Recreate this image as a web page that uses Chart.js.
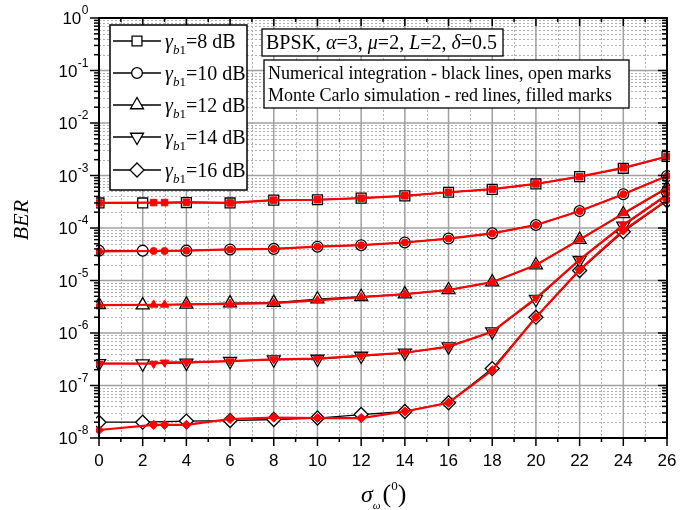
<!DOCTYPE html>
<html>
<head>
<meta charset="utf-8">
<script src="https://cdn.jsdelivr.net/npm/chart.js@4.4.1/dist/chart.umd.min.js"></script>
<style>
  body { margin: 0; background: #fff; }
  #wrap { width: 692px; height: 510px; }
</style>
</head>
<body>
<div id="wrap"><canvas id="berChart" width="692" height="510"></canvas></div>
<script>
// Pointing error std. deviation (degrees)
const sigmaNum = [0, 2, 4, 6, 8, 10, 12, 14, 16, 18, 20, 22, 24, 26];
const sigmaSim = [0, 2.5, 3, 4, 6, 8, 10, 12, 14, 16, 18, 20, 22, 24, 26];

// Numerical integration (black, open marks)
const ber8Num  = [3.0e-4, 3.0e-4, 3.05e-4, 3.0e-4, 3.4e-4, 3.45e-4, 3.7e-4, 4.1e-4, 4.8e-4, 5.45e-4, 6.9e-4, 9.5e-4, 1.37e-3, 2.3e-3];
const ber10Num = [3.7e-5, 3.7e-5, 3.7e-5, 3.9e-5, 4.0e-5, 4.4e-5, 4.7e-5, 5.3e-5, 6.3e-5, 7.9e-5, 1.14e-4, 2.1e-4, 4.4e-4, 9.8e-4];
const ber12Num = [3.45e-6, 3.4e-6, 3.5e-6, 3.7e-6, 3.8e-6, 4.4e-6, 4.9e-6, 5.5e-6, 6.6e-6, 9.3e-6, 1.97e-5, 6.0e-5, 1.85e-4, 5.7e-4];
const ber14Num = [2.65e-7, 2.6e-7, 2.7e-7, 2.9e-7, 3.1e-7, 3.2e-7, 3.65e-7, 4.2e-7, 5.5e-7, 1.06e-6, 4.4e-6, 2.45e-5, 1.1e-4, 4.2e-4];
const ber16Num = [2.0e-8, 2.0e-8, 2.1e-8, 2.15e-8, 2.25e-8, 2.4e-8, 2.8e-8, 3.2e-8, 4.7e-8, 2.1e-7, 2.0e-6, 1.55e-5, 8.5e-5, 3.3e-4];

// Monte Carlo simulation (red, filled marks)
const ber8Sim  = [3.0e-4, 3.05e-4, 3.05e-4, 3.1e-4, 3.0e-4, 3.4e-4, 3.45e-4, 3.7e-4, 4.1e-4, 4.8e-4, 5.5e-4, 6.9e-4, 9.5e-4, 1.4e-3, 2.3e-3];
const ber10Sim = [3.6e-5, 3.65e-5, 3.65e-5, 3.7e-5, 3.9e-5, 4.0e-5, 4.4e-5, 4.7e-5, 5.3e-5, 6.3e-5, 7.9e-5, 1.14e-4, 2.1e-4, 4.4e-4, 9.8e-4];
const ber12Sim = [3.4e-6, 3.45e-6, 3.45e-6, 3.5e-6, 3.6e-6, 3.7e-6, 4.2e-6, 4.8e-6, 5.5e-6, 6.6e-6, 9.3e-6, 1.97e-5, 6.0e-5, 1.9e-4, 5.8e-4];
const ber14Sim = [2.6e-7, 2.6e-7, 2.75e-7, 2.75e-7, 2.9e-7, 3.15e-7, 3.25e-7, 3.7e-7, 4.2e-7, 5.5e-7, 1.06e-6, 4.6e-6, 2.5e-5, 1.15e-4, 4.3e-4];
const ber16Sim = [1.42e-8, 1.78e-8, 1.78e-8, 1.78e-8, 2.3e-8, 2.45e-8, 2.4e-8, 2.4e-8, 3.2e-8, 4.7e-8, 1.95e-7, 2.0e-6, 1.6e-5, 9.0e-5, 3.4e-4];

const snrLabels = ['8', '10', '12', '14', '16'];
const xTicks = [0, 2, 4, 6, 8, 10, 12, 14, 16, 18, 20, 22, 24, 26];
const yDecades = [0, -1, -2, -3, -4, -5, -6, -7, -8];

const numSeries = [ber8Num, ber10Num, ber12Num, ber14Num, ber16Num];
const simSeries = [ber8Sim, ber10Sim, ber12Sim, ber14Sim, ber16Sim];

// marker looks, one per SNR
const marks = [
  { style: 'rect', rot: 0, rOpen: 7, rFill: 4.6 },
  { style: 'circle', rot: 0, rOpen: 5.4, rFill: 3.5 },
  { style: 'triangle', rot: 0, rOpen: 7.5, rFill: 4.8 },
  { style: 'triangle', rot: 180, rOpen: 7.5, rFill: 4.8 },
  { style: 'rectRot', rot: 0, rOpen: 7, rFill: 4.6 }
];

const SERIF = '"Liberation Serif", "Times New Roman", serif';
const SANS = '"Liberation Sans", Arial, sans-serif';

const datasets = [];
numSeries.forEach((ser, i) => {
  datasets.push({
    label: 'num ' + snrLabels[i],
    data: sigmaNum.map((x, j) => ({ x: x, y: ser[j] })),
    borderColor: '#000',
    borderWidth: 1.3,
    pointStyle: marks[i].style,
    pointRotation: marks[i].rot,
    pointRadius: marks[i].rOpen,
    pointBackgroundColor: '#fff',
    pointBorderColor: '#000',
    pointBorderWidth: 1.3,
    tension: 0,
    order: 1,
    clip: 3
  });
});
simSeries.forEach((ser, i) => {
  datasets.push({
    label: 'sim ' + snrLabels[i],
    data: sigmaSim.map((x, j) => ({ x: x, y: ser[j] })),
    borderColor: '#ff0000',
    borderWidth: 2.2,
    pointStyle: marks[i].style,
    pointRotation: marks[i].rot,
    pointRadius: marks[i].rFill,
    pointBackgroundColor: '#ff0000',
    pointBorderColor: '#ff0000',
    pointBorderWidth: 1,
    tension: 0,
    order: 0,
    clip: 3
  });
});

// draw a row of text pieces: [text, font, dy, extra gap]
function textRuns(ctx, x, y, parts) {
  for (const p of parts) {
    ctx.font = p[1];
    ctx.fillText(p[0], x, y + (p[2] || 0));
    x += ctx.measureText(p[0]).width + (p[3] || 0);
  }
  return x;
}

function seg(ctx, x1, y1, x2, y2) {
  ctx.beginPath();
  ctx.moveTo(x1, y1);
  ctx.lineTo(x2, y2);
  ctx.stroke();
}

const gridPlugin = {
  id: 'gridPlugin',
  beforeDatasetsDraw(chart) {
    const { ctx, chartArea: a } = chart;
    const xs = chart.scales.x, ys = chart.scales.y;
    ctx.save();
    // minor dotted grid
    ctx.strokeStyle = '#b0b0b0';
    ctx.lineWidth = 1;
    ctx.setLineDash([2, 2]);
    for (let v = 1; v < 26; v += 2) {
      const px = Math.round(xs.getPixelForValue(v)) + 0.5;
      seg(ctx, px, a.top, px, a.bottom);
    }
    for (const d of yDecades) {
      if (d === 0) continue;
      for (let m = 2; m <= 9; m++) {
        const py = Math.round(ys.getPixelForValue(m * Math.pow(10, d))) + 0.5;
        seg(ctx, a.left, py, a.right, py);
      }
    }
    // major solid grid
    ctx.setLineDash([]);
    ctx.strokeStyle = '#a0a0a0';
    ctx.lineWidth = 1.5;
    for (const v of xTicks) {
      const px = xs.getPixelForValue(v);
      seg(ctx, px, a.top, px, a.bottom);
    }
    for (const d of yDecades) {
      const py = ys.getPixelForValue(Math.pow(10, d));
      seg(ctx, a.left, py, a.right, py);
    }
    ctx.restore();
  },
  afterDraw(chart) {
    const { ctx, chartArea: a } = chart;
    const xs = chart.scales.x, ys = chart.scales.y;
    ctx.save();
    ctx.strokeStyle = '#000';
    ctx.fillStyle = '#000';

    // ticks: outward on left/bottom, inward on top/right
    ctx.lineWidth = 1.5;
    for (let v = 0; v <= 26; v++) {
      const px = xs.getPixelForValue(v);
      const len = v % 2 === 0 ? 8 : 4;
      seg(ctx, px, a.bottom, px, a.bottom + len);
      seg(ctx, px, a.top, px, a.top + len);
    }
    for (const d of yDecades) {
      const py = ys.getPixelForValue(Math.pow(10, d));
      seg(ctx, a.left - 9, py, a.left, py);
      seg(ctx, a.right - 9, py, a.right, py);
      if (d === 0) continue;
      for (let m = 2; m <= 9; m++) {
        const pm = ys.getPixelForValue(m * Math.pow(10, d));
        seg(ctx, a.left - 5, pm, a.left, pm);
        seg(ctx, a.right - 5, pm, a.right, pm);
      }
    }

    // frame
    ctx.lineWidth = 2;
    ctx.strokeRect(a.left, a.top, a.right - a.left, a.bottom - a.top);

    // x tick labels
    ctx.font = '17px ' + SANS;
    ctx.textAlign = 'center';
    ctx.textBaseline = 'alphabetic';
    for (const v of xTicks) {
      ctx.fillText(String(v), xs.getPixelForValue(v), 466);
    }

    // y tick labels 10^n
    ctx.textAlign = 'left';
    for (const d of yDecades) {
      const py = ys.getPixelForValue(Math.pow(10, d));
      const sup = d === 0 ? '0' : String(d);
      ctx.font = '12px ' + SANS;
      const sw = ctx.measureText(sup).width;
      ctx.font = '17px ' + SANS;
      const bw = ctx.measureText('10').width;
      const x0 = 88 - sw - bw;
      ctx.fillText('10', x0, py + 6);
      ctx.font = '12px ' + SANS;
      ctx.fillText(sup, x0 + bw + 0.5, py - 4);
    }

    // axis titles
    ctx.save();
    ctx.translate(28, 220);
    ctx.rotate(-Math.PI / 2);
    ctx.textAlign = 'center';
    ctx.font = 'italic 22px ' + SERIF;
    ctx.fillText('BER', 0, 0);
    ctx.restore();

    textRuns(ctx, 361, 502, [
      ['σ', 'italic 24px ' + SERIF, 0],
      ['ω', 'italic 11px ' + SERIF, 7, 2],
      ['(', '26px ' + SERIF, 0],
      ['0', '13px ' + SERIF, -12],
      [')', '26px ' + SERIF, 0]
    ]);

    // legend box
    ctx.fillStyle = '#fff';
    ctx.fillRect(110, 25, 137, 165);
    ctx.lineWidth = 1.5;
    ctx.strokeRect(110, 25, 137, 165);
    const rowY = [41, 73, 105, 137, 170];
    marks.forEach((mk, i) => {
      const yy = rowY[i];
      ctx.strokeStyle = '#000';
      ctx.lineWidth = 1.5;
      seg(ctx, 113, yy, 161, yy);
      ctx.fillStyle = '#fff';
      ctx.lineWidth = 1.3;
      Chart.helpers.drawPoint(ctx, { pointStyle: mk.style, rotation: mk.rot, radius: mk.rOpen, borderWidth: 1.3 }, 137, yy);
      ctx.fillStyle = '#000';
      textRuns(ctx, 165, yy + 7, [
        ['γ', 'italic 20px ' + SERIF, 0],
        ['b', 'italic 13px ' + SERIF, 6],
        ['1', '13px ' + SERIF, 6],
        ['=' + snrLabels[i] + ' dB', '20px ' + SERIF, 0]
      ]);
    });

    // parameter box
    ctx.fillStyle = '#fff';
    ctx.fillRect(262, 29, 241, 27);
    ctx.strokeStyle = '#000';
    ctx.lineWidth = 1.3;
    ctx.strokeRect(262, 29, 241, 27);
    ctx.fillStyle = '#000';
    const R = '20px ' + SERIF, I = 'italic 20px ' + SERIF;
    textRuns(ctx, 266, 49, [
      ['BPSK, ', R], ['α', I], ['=3, ', R], ['μ', I], ['=2, ', R],
      ['L', I], ['=2, ', R], ['δ', I], ['=0.5', R]
    ]);

    // method box
    ctx.fillStyle = '#fff';
    ctx.fillRect(264, 60, 365, 48);
    ctx.strokeRect(264, 60, 365, 48);
    ctx.fillStyle = '#000';
    ctx.font = '18px ' + SERIF;
    ctx.fillText('Numerical integration - black lines, open marks', 268, 79);
    ctx.fillText('Monte Carlo simulation - red lines, filled marks', 268, 101);

    ctx.restore();
  }
};

const ctx = document.getElementById('berChart');
new Chart(ctx, {
  type: 'line',
  data: { datasets: datasets },
  options: {
    responsive: false,
    animation: false,
    devicePixelRatio: 1,
    layout: { padding: { left: 99, right: 25, top: 18, bottom: 72 } },
    plugins: {
      legend: { display: false },
      tooltip: { enabled: false }
    },
    scales: {
      x: { type: 'linear', min: 0, max: 26, display: false },
      y: { type: 'logarithmic', min: 1e-8, max: 1, display: false }
    }
  },
  plugins: [gridPlugin]
});
</script>
</body>
</html>
